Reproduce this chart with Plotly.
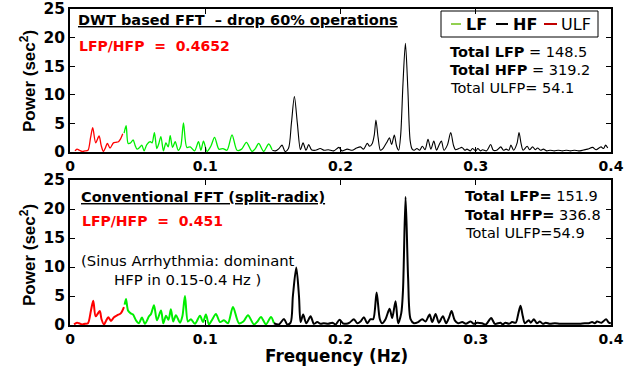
import plotly.graph_objects as go

# ---------------- data ----------------
# Top panel: DWT based FFT
top_ulf_f = [0.0037, 0.0052, 0.0070, 0.0089, 0.0111, 0.0133, 0.0152, 0.0168, 0.0190, 0.0215,
             0.0230, 0.0247, 0.0263, 0.0276, 0.0296, 0.0321, 0.0341, 0.0358, 0.0374, 0.0390]
top_ulf_p = [0.2, 0.5, 0.3, 0.1, 0.2, 0.3, 2.5, 4.25, 1.6, 2.8,
             1.2, 0.1, 0.8, 1.5, 0.7, 1.6, 1.7, 1.8, 2.3, 3.2]

top_lf_f = [0.0400, 0.0415, 0.0430, 0.0448, 0.0467, 0.0481, 0.0496, 0.0515, 0.0531, 0.0548,
            0.0568, 0.0593, 0.0607, 0.0624, 0.0642, 0.0657, 0.0672, 0.0691, 0.0709, 0.0726,
            0.0741, 0.0758, 0.0778, 0.0800, 0.0819, 0.0839, 0.0864, 0.0889, 0.0921, 0.0950,
            0.0968, 0.0987, 0.1013, 0.1041, 0.1069, 0.1101, 0.1131, 0.1161, 0.1198, 0.1235,
            0.1269, 0.1304, 0.1346, 0.1370, 0.1395, 0.1432, 0.1469, 0.1494]
top_lf_p = [3.3, 4.6, 1.5, 1.6, 2.1, 1.2, 0.5, 0.8, 1.2, 0.2,
            1.3, 1.8, 1.6, 3.4, 0.6, 1.5, 2.7, 0.2, 1.6, 0.9,
            2.85, 0.8, 1.8, 0.3, 1.0, 5.1, 0.8, 0.9, 0.2, 1.8,
            0.3, 1.9, 0.1, 1.0, 2.56, 0.5, 0.6, 0.3, 3.0, 0.3,
            0.5, 1.7, 0.1, 0.6, 1.5, 0.1, 1.4, 0.4]

top_hf_f = [0.1496, 0.1520, 0.1545, 0.1568, 0.1590, 0.1615, 0.1637, 0.1659, 0.1681, 0.1704,
            0.1723, 0.1745, 0.1765, 0.1785, 0.1815, 0.1850, 0.1880, 0.1910, 0.1950, 0.1988,
            0.2010, 0.2050, 0.2086, 0.2119, 0.2148, 0.2170, 0.2198, 0.2215, 0.2235, 0.2250,
            0.2262, 0.2278, 0.2295, 0.2310, 0.2325, 0.2345, 0.2362, 0.2378, 0.2398, 0.2415,
            0.2430, 0.2445, 0.2462, 0.2480, 0.2498, 0.2515, 0.2530, 0.2545, 0.2565, 0.2585,
            0.2605, 0.2625, 0.2647, 0.2668, 0.2690, 0.2710, 0.2728, 0.2746, 0.2765, 0.2790,
            0.2815, 0.2835, 0.2850, 0.2875, 0.2898, 0.2920, 0.2935, 0.2960, 0.2975, 0.3000,
            0.3015, 0.3035, 0.3050, 0.3080, 0.3110, 0.3130, 0.3155, 0.3185, 0.3205, 0.3225,
            0.3245, 0.3260, 0.3280, 0.3305, 0.3320, 0.3335, 0.3350, 0.3380, 0.3398, 0.3420,
            0.3440, 0.3457, 0.3480, 0.3500, 0.3525, 0.3550, 0.3580, 0.3610, 0.3640, 0.3670,
            0.3700, 0.3730, 0.3760, 0.3790, 0.3827, 0.3864, 0.3890, 0.3926, 0.3945, 0.3960,
            0.3976]
top_hf_p = [0.3, 0.2, 0.6, 1.2, 0.1, 0.6, 5.0, 9.7, 5.0, 0.4,
            1.6, 0.3, 1.3, 0.4, 0.3, 0.6, 0.3, 0.4, 0.2, 0.8,
            0.2, 0.5, 0.3, 0.7, 0.9, 0.5, 1.5, 1.0, 1.5, 3.0,
            5.6, 2.5, 0.3, 0.5, 1.0, 1.8, 2.5, 1.3, 2.95, 1.0,
            0.3, 3.0, 12.0, 19.0, 11.0, 2.0, 0.5, 0.3, 0.6, 0.3,
            1.0, 0.4, 2.2, 0.5, 1.9, 0.3, 1.2, 1.9, 0.3, 1.2,
            3.4, 1.2, 0.4, 0.6, 0.8, 0.3, 0.5, 0.2, 0.6, 0.2,
            0.6, 0.2, 0.4, 0.2, 1.3, 0.3, 0.3, 0.9, 0.3, 0.5,
            0.3, 1.2, 0.3, 1.5, 3.4, 1.5, 0.3, 1.0, 0.4, 0.9,
            0.4, 0.7, 0.3, 0.5, 0.2, 0.3, 0.2, 0.3, 0.2, 0.3,
            0.2, 0.3, 0.2, 0.3, 0.5, 0.8, 0.4, 0.9, 0.6, 1.2,
            0.7]

# Bottom panel: conventional FFT (split-radix)
bot_ulf_f = [0.0030, 0.0052, 0.0067, 0.0089, 0.0111, 0.0133, 0.0155, 0.0172, 0.0190, 0.0220,
             0.0233, 0.0251, 0.0266, 0.0283, 0.0303, 0.0325, 0.0350, 0.0375, 0.0399]
bot_ulf_p = [0.1, 0.4, 0.3, 0.1, 0.2, 0.3, 2.5, 4.2, 1.5, 2.4,
             1.0, 0.1, 0.7, 1.35, 0.7, 1.35, 1.7, 2.0, 3.1]

bot_lf_f = [0.0404, 0.0414, 0.0429, 0.0449, 0.0466, 0.0488, 0.0510, 0.0532, 0.0554, 0.0584,
            0.0599, 0.0621, 0.0643, 0.0673, 0.0690, 0.0710, 0.0728, 0.0746, 0.0763, 0.0783,
            0.0813, 0.0831, 0.0850, 0.0872, 0.0894, 0.0924, 0.0961, 0.0983, 0.1005, 0.1027,
            0.1053, 0.1079, 0.1109, 0.1138, 0.1168, 0.1205, 0.1249, 0.1282, 0.1316, 0.1360,
            0.1386, 0.1412, 0.1449, 0.1486, 0.1508]
bot_lf_p = [3.5, 4.5, 2.5, 2.0, 1.8, 0.8, 0.3, 1.3, 0.2, 1.5,
            1.9, 3.4, 0.8, 2.5, 0.3, 1.6, 0.9, 2.7, 0.6, 1.7,
            0.4, 1.5, 5.0, 0.6, 1.0, 0.2, 1.6, 0.5, 1.8, 0.1,
            1.0, 1.9, 0.5, 0.8, 0.3, 3.1, 0.3, 0.6, 1.7, 0.1,
            0.6, 1.4, 0.1, 1.4, 0.3]

bot_hf_f = [0.1508, 0.1545, 0.1582, 0.1606, 0.1631, 0.1648, 0.1673, 0.1693, 0.1705, 0.1724,
            0.1747, 0.1779, 0.1803, 0.1828, 0.1853, 0.1877, 0.1909, 0.1939, 0.1964, 0.1993,
            0.2018, 0.2042, 0.2067, 0.2099, 0.2124, 0.2148, 0.2173, 0.2197, 0.2222, 0.2242,
            0.2267, 0.2291, 0.2308, 0.2333, 0.2363, 0.2382, 0.2407, 0.2426, 0.2449, 0.2462,
            0.2481, 0.2500, 0.2518, 0.2543, 0.2574, 0.2604, 0.2629, 0.2659, 0.2678, 0.2703,
            0.2727, 0.2757, 0.2781, 0.2801, 0.2821, 0.2845, 0.2870, 0.2900, 0.2927, 0.2962,
            0.2986, 0.3010, 0.3047, 0.3075, 0.3114, 0.3141, 0.3183, 0.3200, 0.3220, 0.3245,
            0.3269, 0.3296, 0.3315, 0.3331, 0.3348, 0.3363, 0.3392, 0.3407, 0.3430, 0.3452,
            0.3474, 0.3496, 0.3518, 0.3548, 0.3585, 0.3622, 0.3659, 0.3695, 0.3732, 0.3769,
            0.3806, 0.3836, 0.3860, 0.3880, 0.3897, 0.3930, 0.3964, 0.3984, 0.3999]
bot_hf_p = [0.3, 0.1, 1.05, 0.1, 0.4, 5.0, 9.9, 5.0, 0.5, 1.8,
            0.3, 1.5, 0.2, 0.5, 0.2, 0.3, 0.2, 0.4, 0.1, 0.9,
            0.3, 0.2, 0.4, 1.0, 0.3, 0.6, 1.35, 0.3, 1.0, 1.0,
            5.6, 1.0, 0.3, 1.0, 2.8, 1.2, 4.1, 0.3, 2.0, 6.0,
            22.1, 8.0, 1.0, 0.3, 0.5, 1.0, 0.6, 1.8, 0.5, 1.9,
            0.4, 1.5, 0.3, 1.2, 2.4, 0.8, 0.3, 0.5, 0.2, 0.6,
            0.2, 0.4, 0.3, 0.1, 1.2, 0.2, 0.4, 0.1, 0.4, 0.2,
            0.5, 0.4, 2.0, 3.3, 1.5, 0.3, 0.8, 0.4, 1.0, 0.3,
            0.6, 0.2, 0.4, 0.2, 0.3, 0.2, 0.2, 0.2, 0.2, 0.2,
            0.3, 0.3, 0.5, 0.3, 0.6, 0.4, 1.0, 0.4, 0.3]

x_tickvals = [0, 0.1, 0.2, 0.3, 0.4]
x_ticktext = ["0", "0.1", "0.2", "0.3", "0.4"]
y_tickvals = [0, 5, 10, 15, 20, 25]
y_ticktext = ["0", "5", "10", "15", "20", "25"]

# ---------------- layout helpers ----------------
W, H = 638, 368
L, R, T, B = 70, 27, 9, 43


def px(x):
    return (x - L) / (W - L - R)


def py(y):
    return (H - B - y) / (H - T - B)


FONT = "DejaVu Sans"
C_ULF = "#ff0000"
C_LF = "#00ee00"
C_HF = "#000000"

fig = go.Figure()


def add_band(f, p, color, width, xa, ya):
    fig.add_trace(go.Scatter(x=f, y=p, mode="lines", xaxis=xa, yaxis=ya,
                             line=dict(color=color, width=width, shape="spline", smoothing=0.8),
                             showlegend=False, hoverinfo="skip"))


add_band(top_ulf_f, top_ulf_p, C_ULF, 1.3, "x", "y")
add_band(top_lf_f, top_lf_p, C_LF, 1.3, "x", "y")
add_band(top_hf_f, top_hf_p, C_HF, 1.1, "x", "y")
add_band(bot_ulf_f, bot_ulf_p, C_ULF, 2.0, "x2", "y2")
add_band(bot_lf_f, bot_lf_p, C_LF, 2.0, "x2", "y2")
add_band(bot_hf_f, bot_hf_p, C_HF, 2.0, "x2", "y2")

xaxis_common = dict(range=[0, 0.4], tickvals=x_tickvals, ticktext=x_ticktext,
                    showgrid=False, zeroline=False, showline=True, linecolor="black",
                    linewidth=1.5, mirror="ticks", ticks="inside", ticklen=5,
                    tickcolor="black", tickwidth=1, automargin=False,
                    tickfont=dict(family=FONT, size=14, color="black", weight="bold"))
yaxis_common = dict(range=[0, 25], tickvals=y_tickvals, ticktext=y_ticktext,
                    showgrid=False, zeroline=False, showline=True, linecolor="black",
                    linewidth=1.5, mirror="ticks", ticks="inside", ticklen=5,
                    tickcolor="black", tickwidth=1, automargin=False,
                    tickfont=dict(family=FONT, size=15.5, color="black", weight="bold"))

fig.update_layout(
    width=W, height=H,
    margin=dict(l=L, r=R, t=T, b=B, pad=0),
    paper_bgcolor="white", plot_bgcolor="white",
    font=dict(family=FONT, color="black"),
    xaxis=dict(domain=[0, 1], anchor="y", **xaxis_common),
    yaxis=dict(domain=[py(152), 1], anchor="x", **yaxis_common),
    xaxis2=dict(domain=[0, 1], anchor="y2", **xaxis_common),
    yaxis2=dict(domain=[0, py(180)], anchor="x2", **yaxis_common),
)

ann = []


def text(x, y, s, size, color="black", xanchor="left", angle=0, family=FONT, align="left"):
    ann.append(dict(x=px(x), y=py(y), xref="paper", yref="paper", text=s, showarrow=False,
                    xanchor=xanchor, yanchor="middle", textangle=angle, align=align,
                    font=dict(family=family, size=size, color=color)))


NB = "\u00a0"
# top panel
text(76, 20, "<b><u>DWT based FFT" + NB + NB + "– drop 60% operations</u></b>", 14.5)
text(77, 46, "<b>LFP/HFP" + NB + NB + "=" + NB + NB + "0.4652</b>", 14, color="#ff0000")
text(448, 52, "<b>Total LFP</b> = 148.5", 14.5)
text(448, 70, "<b>Total HFP</b> = 319.2", 14.5)
text(448, 88, "Total ULFP= 54.1", 14.5)

# bottom panel
text(79, 197, "<b><u>Conventional FFT (split-radix)</u></b>", 14.5)
text(80, 221, "<b>LFP/HFP" + NB + NB + "=" + NB + NB + "0.451</b>", 14, color="#ff0000")
text(188, 269.5, "(Sinus Arrhythmia: dominant<br>HFP in 0.15-0.4 Hz )", 14.8,
     xanchor="center", align="center")
text(463, 196, "<b>Total LFP=</b> 151.9", 14.5)
text(463, 215, "<b>Total HFP=</b> 336.8", 14.5)
text(463, 233, "Total ULFP=54.9", 14.5)

# axis titles
text(28, 81, "<b>Power (sec<sup>2</sup>)</b>", 17, xanchor="center", angle=-90,
     family="Liberation Sans")
text(28, 255, "<b>Power (sec<sup>2</sup>)</b>", 17, xanchor="center", angle=-90,
     family="Liberation Sans")
text(336, 356, "<b>Frequency (Hz)</b>", 16.8, xanchor="center")

# legend (box, line samples, labels)
text(464, 24, "<b>LF</b>", 16)
text(511, 24, "<b>HF</b>", 16)
text(559, 24, "ULF", 16)

shapes = [
    dict(type="rect", xref="paper", yref="paper", x0=px(441), x1=px(598), y0=py(37), y1=py(11),
         line=dict(color="black", width=1), fillcolor="white", layer="below"),
    dict(type="line", xref="paper", yref="paper", x0=px(451), x1=px(461), y0=py(24), y1=py(24),
         line=dict(color="#92d050", width=2)),
    dict(type="line", xref="paper", yref="paper", x0=px(496), x1=px(508), y0=py(24), y1=py(24),
         line=dict(color="black", width=2)),
    dict(type="line", xref="paper", yref="paper", x0=px(544), x1=px(557), y0=py(24), y1=py(24),
         line=dict(color="#c00000", width=2)),
]

fig.update_layout(annotations=ann, shapes=shapes)

fig.write_html("out.html", config={"displayModeBar": False},
               post_script="document.body.style.margin='0';document.body.style.padding='0';")
